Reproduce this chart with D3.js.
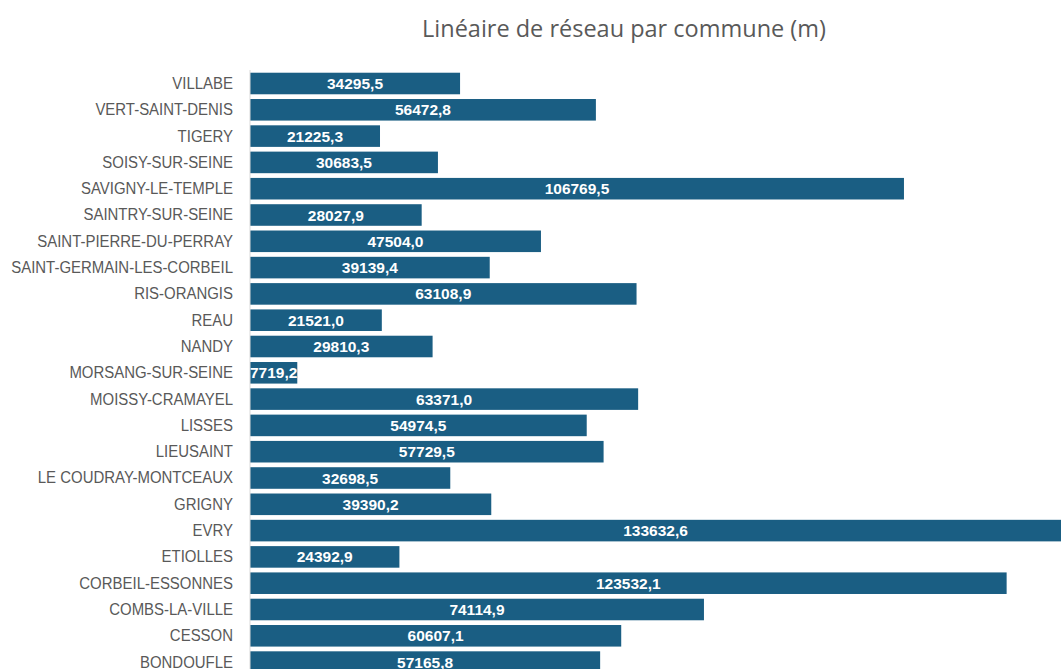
<!DOCTYPE html>
<html>
<head>
<meta charset="utf-8">
<script src="https://cdn.jsdelivr.net/npm/d3@7"></script>
<style>
body { margin: 0; background: #fff; }
</style>
</head>
<body>
<svg id="chart"></svg>
<script>
var communes = ["VILLABE", "VERT-SAINT-DENIS", "TIGERY", "SOISY-SUR-SEINE", "SAVIGNY-LE-TEMPLE",
	"SAINTRY-SUR-SEINE", "SAINT-PIERRE-DU-PERRAY", "SAINT-GERMAIN-LES-CORBEIL", "RIS-ORANGIS", "REAU",
	"NANDY", "MORSANG-SUR-SEINE", "MOISSY-CRAMAYEL", "LISSES", "LIEUSAINT", "LE COUDRAY-MONTCEAUX",
	"GRIGNY", "EVRY", "ETIOLLES", "CORBEIL-ESSONNES", "COMBS-LA-VILLE", "CESSON", "BONDOUFLE"];
var lineaire = [34295.5, 56472.8, 21225.3, 30683.5, 106769.5,
	28027.9, 47504.0, 39139.4, 63108.9, 21521.0,
	29810.3, 7719.2, 63371.0, 54974.5, 57729.5, 32698.5,
	39390.2, 133632.6, 24392.9, 123532.1, 74114.9, 60607.1, 57165.8];
var title = "Linéaire de réseau par commune (m)";

var width = 1061,
    height = 669;

var svg = d3.select("#chart").attr("width", width).attr("height", height);

var x = d3.scaleLinear().domain([0, 140000]).range([250, 1107.5]);
var y = d3.scaleBand().domain(communes).range([70.35, 70.35 + 23 * 26.3])
	.paddingInner(0.18).paddingOuter(0.09);

var fmt = function(v) { return v.toFixed(1).replace(".", ","); };

svg.append("text").text(title)
	.attr("x", 624).attr("y", 37)
	.attr("text-anchor", "middle")
	.style("font-family", "'Open Sans', Roboto, sans-serif")
	.style("font-size", "23.5px")
	.style("fill", "#595959");

// bars
svg.selectAll("rect.bar").data(communes).enter().append("rect")
	.attr("class", "bar")
	.attr("x", x(0))
	.attr("y", function(d) { return y(d); })
	.attr("width", function(d, i) { return x(lineaire[i]) - x(0); })
	.attr("height", y.bandwidth())
	.style("fill", "#1a5e83");

// axis line + category labels (narrowed)
var yAxis = d3.axisLeft(y).tickSize(0).tickPadding(0);
var ag = svg.append("g").attr("transform", "translate(" + x(0) + ",0)").call(yAxis);
ag.select(".domain").attr("stroke", "#d9d9d9").attr("d", "M0," + 70 + "V" + height);
ag.selectAll("text")
	.attr("x", 0)
	.attr("transform", "translate(-17,0) scale(0.88,1)")
	.style("font-family", "'Liberation Sans', Arial, sans-serif")
	.style("font-size", "17px")
	.style("fill", "#595959");

// value labels
svg.selectAll("text.val").data(communes).enter().append("text")
	.attr("class", "val")
	.text(function(d, i) { return fmt(lineaire[i]); })
	.attr("x", function(d, i) { return (x(0) + Math.min(x(lineaire[i]), width)) / 2; })
	.attr("y", function(d) { return y(d) + y.bandwidth() / 2; })
	.attr("dy", "0.36em")
	.attr("text-anchor", "middle")
	.style("font-family", "'Liberation Sans', Arial, sans-serif")
	.style("font-weight", "bold")
	.style("font-size", "15.5px")
	.style("fill", "#fff");
</script>
</body>
</html>
